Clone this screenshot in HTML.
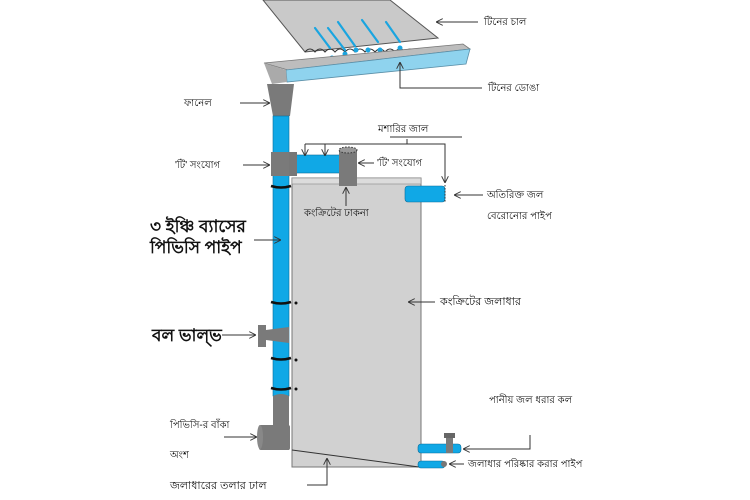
<!DOCTYPE html>
<html><head><meta charset="utf-8"><style>
html,body{margin:0;padding:0;background:#fff;}
svg{display:block}
text{font-family:"Liberation Sans","DejaVu Sans",sans-serif;fill:#111}
</style></head><body>
<svg width="750" height="500" viewBox="0 0 750 500" xmlns="http://www.w3.org/2000/svg">
<defs>
<marker id="a" viewBox="0 0 10 10" refX="10" refY="5" markerWidth="7" markerHeight="7" orient="auto"><path d="M0,0 L10,5 L0,10" fill="none" stroke="#333" stroke-width="1.3"/></marker>
</defs>
<!-- roof -->
<polygon points="263,0 390,0 438,38 305,52" fill="#c9c9c9" stroke="#555" stroke-width="1"/>
<path d="M305,52 q5,-6 10,0 q5,-6 10,0 q5,-6 10,0 q5,-6 10,0 q5,-6 10,0 q5,-6 10,0 q5,-6 10,0 q5,-6 10,0 q5,-6 10,0 q5,-6 10,0 q5,-6 10,0 q5,-6 10,0 q5,-6 10,0" fill="none" stroke="#333" stroke-width="1"/>
<g stroke="#1aa5e0" stroke-width="2.2" fill="none" stroke-linecap="round">
<line x1="315" y1="28" x2="330" y2="48"/><line x1="328" y1="28" x2="345" y2="50"/><line x1="338" y1="22" x2="355" y2="46"/><line x1="362" y1="20" x2="378" y2="42"/><line x1="386" y1="22" x2="400" y2="42"/>
</g>
<g fill="#1aa5e0"><circle cx="332" cy="58" r="2.5"/><circle cx="345" cy="54" r="2.5"/><circle cx="356" cy="50" r="2.5"/><circle cx="368" cy="50" r="2.5"/><circle cx="380" cy="50" r="2.5"/><circle cx="400" cy="48" r="2.5"/></g>
<!-- gutter -->
<polygon points="264,63 463,44 470,49 288,70" fill="#bdbdbd" stroke="#777" stroke-width="0.8"/>
<polygon points="286,70 470,49 466,64 287,82" fill="#8fd3ee" stroke="#5a8fa8" stroke-width="0.8"/>
<polygon points="264,63 286,70 287,82 272,84" fill="#aaa"/>
<!-- funnel -->
<polygon points="267,84 294,84 290,116 273,116" fill="#7a7a7a"/>
<!-- pipe -->
<rect x="273" y="116" width="16" height="280" fill="#10a8e6" stroke="#0b6d99" stroke-width="0.6"/>
<!-- T joints -->
<rect x="271" y="152" width="21" height="24" fill="#7a7a7a"/>
<rect x="292" y="155" width="48" height="18" fill="#10a8e6" stroke="#0b6d99" stroke-width="0.6"/>
<rect x="289" y="152" width="8" height="24" fill="#777"/>
<rect x="339" y="150" width="18" height="32" fill="#7a7a7a"/>
<ellipse cx="348" cy="150" rx="9" ry="3" fill="#999" stroke="#333" stroke-dasharray="1.5,1.5" stroke-width="1"/>
<!-- tank -->
<rect x="292" y="178" width="129" height="289" fill="#d1d1d1" stroke="#777" stroke-width="1"/>
<rect x="292" y="178" width="129" height="6" fill="#dcdcdc" stroke="#888" stroke-width="0.6"/>
<line x1="292" y1="450" x2="419" y2="467" stroke="#333" stroke-width="1"/>
<rect x="339" y="176" width="18" height="10" fill="#7a7a7a"/>
<!-- overflow -->
<rect x="405" y="186" width="40" height="16" rx="3" fill="#10a8e6" stroke="#0b6d99" stroke-width="0.6"/>
<line x1="445" y1="185" x2="445" y2="203" stroke="#333" stroke-dasharray="1.5,1.5"/>
<!-- clips -->
<g stroke="#111" stroke-width="2.5" fill="none">
<path d="M271,186 q10,3 20,0"/><path d="M271,302 q10,3 20,0"/><path d="M271,358 q10,3 20,0"/><path d="M271,388 q10,3 20,0"/>
</g>
<g fill="#111"><circle cx="296" cy="303" r="1.5"/><circle cx="296" cy="360" r="1.5"/><circle cx="296" cy="389" r="1.5"/></g>
<!-- ball valve -->
<polygon points="266,330 289,327 289,343 266,340" fill="#7a7a7a"/>
<rect x="258" y="325" width="8" height="22" fill="#7a7a7a"/>
<!-- elbow -->
<path d="M273,396 q8,-4 16,0 L289,450 L273,450 Z" fill="#7a7a7a"/>
<rect x="259" y="425" width="31" height="25" rx="2" fill="#7a7a7a"/>
<ellipse cx="260" cy="437" rx="3" ry="12" fill="#888"/>
<!-- bottom pipes -->
<rect x="418" y="444" width="43" height="9" rx="3" fill="#10a8e6" stroke="#0b6d99" stroke-width="0.6"/>
<rect x="446" y="437" width="7" height="16" fill="#7a7a7a"/>
<rect x="444" y="433" width="11" height="5" fill="#666"/>
<rect x="418" y="461" width="27" height="7" rx="3" fill="#10a8e6" stroke="#0b6d99" stroke-width="0.6"/>
<circle cx="444" cy="464" r="3" fill="#777"/>
<!-- arrows -->
<g stroke="#333" stroke-width="1" fill="none">
<line x1="478" y1="22" x2="436" y2="22" marker-end="url(#a)"/>
<polyline points="482,88 400,88 400,62" marker-end="url(#a)"/>
<line x1="240" y1="103" x2="270" y2="103" marker-end="url(#a)"/>
<line x1="243" y1="165" x2="270" y2="165" marker-end="url(#a)"/>
<line x1="374" y1="163" x2="358" y2="163" marker-end="url(#a)"/>
<polyline points="407,139 407,144 305,144"/>
<line x1="305" y1="144" x2="305" y2="156" marker-end="url(#a)"/>
<line x1="325" y1="144" x2="325" y2="156" marker-end="url(#a)"/>
<polyline points="407,144 445,144 445,183" marker-end="url(#a)"/>
<line x1="390" y1="137" x2="462" y2="137"/>
<line x1="483" y1="195" x2="454" y2="195" marker-end="url(#a)"/>
<line x1="346" y1="206" x2="346" y2="187" marker-end="url(#a)"/>
<line x1="254" y1="240" x2="281" y2="240" marker-end="url(#a)"/>
<line x1="435" y1="302" x2="408" y2="302" marker-end="url(#a)"/>
<line x1="222" y1="335" x2="256" y2="335" marker-end="url(#a)"/>
<line x1="224" y1="437" x2="257" y2="437" marker-end="url(#a)"/>
<polyline points="307,485 327,485 327,458" marker-end="url(#a)"/>
<polyline points="530,435 530,449 463,449" marker-end="url(#a)"/>
<line x1="464" y1="464" x2="449" y2="464" marker-end="url(#a)"/>
</g>
<!-- labels -->
<g font-size="10">
<text x="484" y="25">টিনের চাল</text>
<text x="488" y="91">টিনের ডোঙা</text>
<text x="184" y="106">ফানেল</text>
<text x="175" y="168">'টি' সংযোগ</text>
<text x="378" y="132">মশারির জাল</text>
<text x="377" y="166">'টি' সংযোগ</text>
<text x="487" y="198">অতিরিক্ত জল</text>
<text x="487" y="219">বেরোনোর পাইপ</text>
<text x="304" y="216">কংক্রিটের ঢাকনা</text>
<text x="440" y="305" font-size="11">কংক্রিটের জলাধার</text>
<text x="489" y="403">পানীয় জল ধরার কল</text>
<text x="468" y="467">জলাধার পরিষ্কার করার পাইপ</text>
<text x="170" y="428">পিভিসি-র বাঁকা</text>
<text x="170" y="458">অংশ</text>
<text x="170" y="489" font-size="11">জলাধারের তলার ঢাল</text>
</g>
<g font-size="17" font-weight="bold">
<text x="150" y="232">৩ ইঞ্চি ব্যাসের</text>
<text x="150" y="253">পিভিসি পাইপ</text>
<text x="152" y="341">বল ভাল্ভ</text>
</g>
</svg>
</body></html>
